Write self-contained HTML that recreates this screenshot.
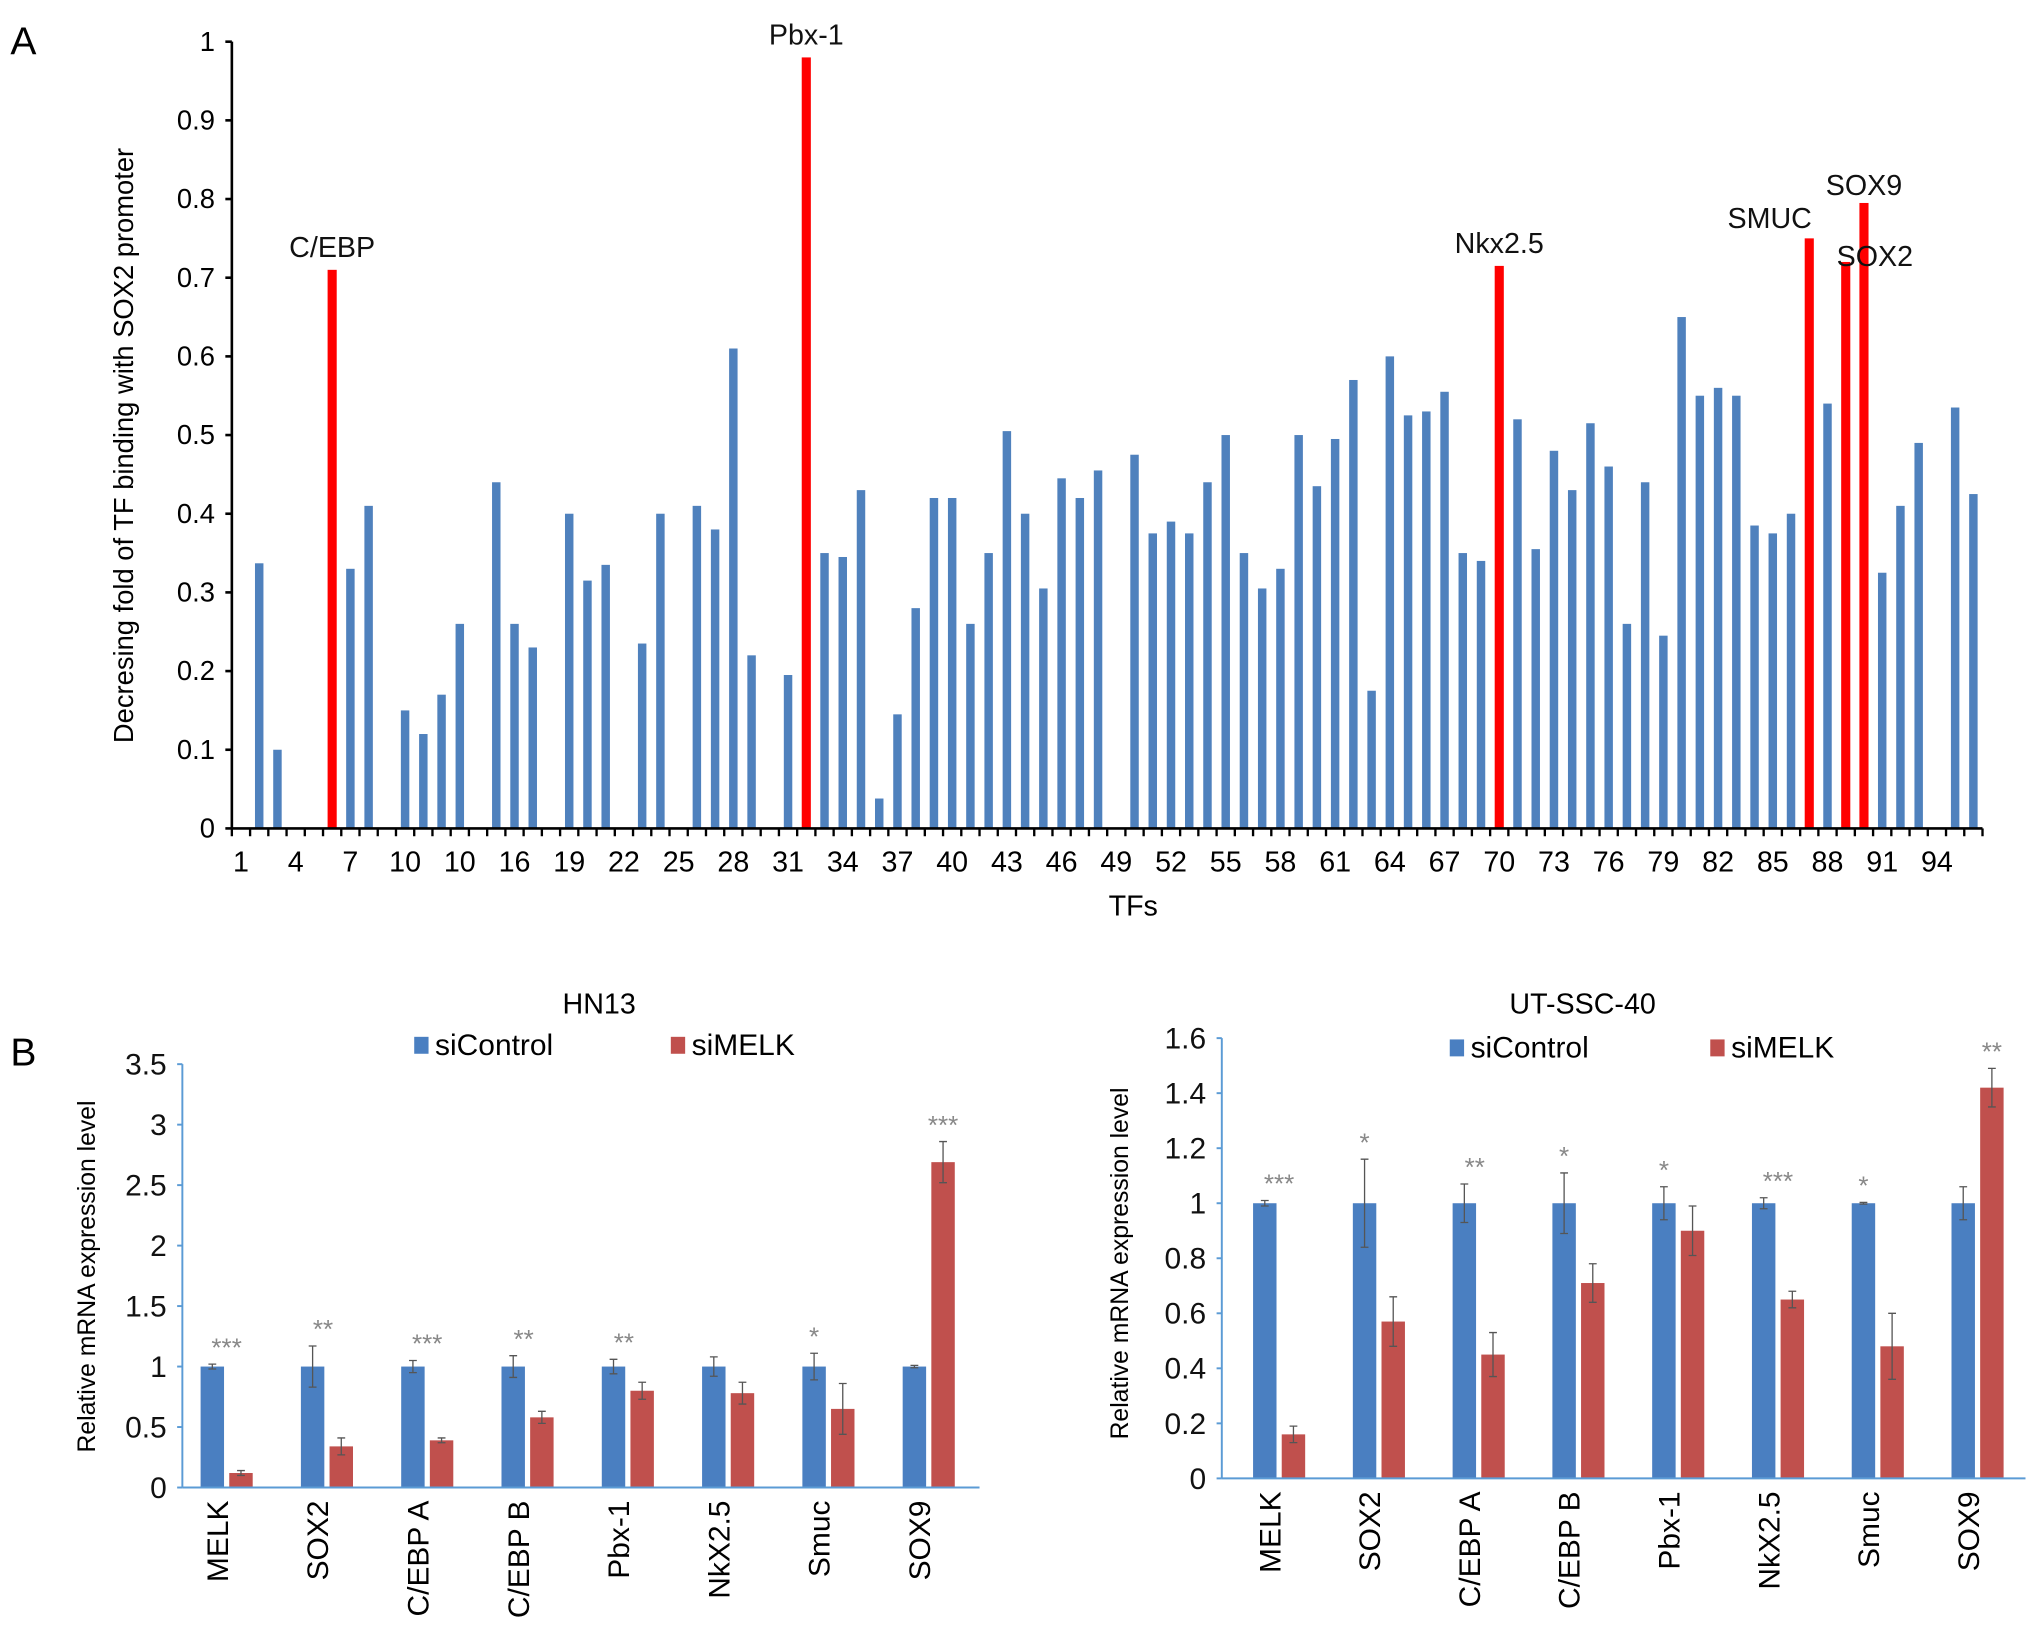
<!DOCTYPE html>
<html><head><meta charset="utf-8">
<style>
html,body{margin:0;padding:0;background:#fff;}
svg{display:block;font-family:"Liberation Sans",Arial,sans-serif;}
</style></head>
<body>
<svg id="fig" width="2032" height="1639" viewBox="0 0 1560 1258.3" preserveAspectRatio="none" xmlns="http://www.w3.org/2000/svg">
  <g id="panelA"></g>
  <g id="panelB1"></g>
  <g id="panelB2"></g>
</svg>
<script>
// ---------- Panel A data ----------
const tfValues = [0,0.337,0.10,0,0,0.71,0.33,0.41,0,0.15,0.12,0.17,0.26,0,0.44,0.26,0.23,0,0.40,0.315,0.335,0,0.235,0.40,0,0.41,0.38,0.61,0.22,0,0.195,0.98,0.35,0.345,0.43,0.038,0.145,0.28,0.42,0.42,0.26,0.35,0.505,0.40,0.305,0.445,0.42,0.455,0,0.475,0.375,0.39,0.375,0.44,0.50,0.35,0.305,0.33,0.50,0.435,0.495,0.57,0.175,0.60,0.525,0.53,0.555,0.35,0.34,0.715,0.52,0.355,0.48,0.43,0.515,0.46,0.26,0.44,0.245,0.65,0.55,0.56,0.55,0.385,0.375,0.40,0.75,0.54,0.72,0.795,0.325,0.41,0.49,0,0.535,0.425];
const highlighted = [6,32,70,87,89,90];
const highlightLabels = ["C/EBP","Pbx-1","Nkx2.5","SMUC","SOX2","SOX9"];
const xTickLabels = ["1","4","7","10","10","16","19","22","25","28","31","34","37","40","43","46","49","52","55","58","61","64","67","70","73","76","79","82","85","88","91","94"];
const yTicksA = [0,0.1,0.2,0.3,0.4,0.5,0.6,0.7,0.8,0.9,1];

// ---------- Panel B data ----------
const genes = ["MELK","SOX2","C/EBP A","C/EBP B","Pbx-1","NkX2.5","Smuc","SOX9"];
const hnControl = [1,1,1,1,1,1,1,1];
const hnControlErr = [0.02,0.17,0.05,0.09,0.06,0.08,0.11,0.01];
const hnMelk = [0.12,0.34,0.39,0.58,0.80,0.78,0.65,2.69];
const hnMelkErr = [0.02,0.07,0.02,0.05,0.07,0.09,0.21,0.17];
const hnStars = ["***","**","***","**","**","","*","***"];
const hnTicks = [0,0.5,1,1.5,2,2.5,3,3.5];
const utControl = [1,1,1,1,1,1,1,1];
const utControlErr = [0.01,0.16,0.07,0.11,0.06,0.02,0.003,0.06];
const utMelk = [0.16,0.57,0.45,0.71,0.90,0.65,0.48,1.42];
const utMelkErr = [0.03,0.09,0.08,0.07,0.09,0.03,0.12,0.07];
const utStars = ["***","*","**","*","*","***","*","**"];
const utTicks = [0,0.2,0.4,0.6,0.8,1,1.2,1.4,1.6];

const NS="http://www.w3.org/2000/svg";
function mk(parent,tag,attrs,text){const e=document.createElementNS(NS,tag);for(const k in attrs)e.setAttribute(k,attrs[k]);if(text!==undefined)e.textContent=text;parent.appendChild(e);return e;}

// ---------- Panel A ----------
(function(){
  const g=document.getElementById('panelA');
  const x0=178,x1=1522,y0=636,y1=32;
  const n=tfValues.length, w=(x1-x0)/n;
  const ys=v=>y0-(y0-y1)*v;
  const xs=i=>x0+(i+0.5)*w;
  let t=mk(g,'text',{x:8,y:42,'font-size':30},'A');
  
  
  tfValues.forEach((v,i)=>{
    if(v<=0)return;
    const hi=highlighted.indexOf(i+1)>=0;
    const bw=hi?7:6.5;
    const r=mk(g,'rect',{x:xs(i)-bw/2,y:ys(v),width:bw,height:y0-ys(v),fill:hi?'#ff0000':'#4f81bd'});
    
    
  });
  highlighted.forEach((k,j)=>{
    const v=tfValues[k-1];
    let lx=xs(k-1), ly=ys(v)-10, anchor='middle';
    if(highlightLabels[j]==='SMUC'){lx=xs(k-1)+2;anchor='end';ly=ys(v)-8;}
    if(highlightLabels[j]==='SOX2'){lx=xs(k-1)-7;anchor='start';ly=ys(v)+3;}
    if(highlightLabels[j]==='SOX9'){lx=xs(k-1);ly=ys(v)-6;}
    const tt=mk(g,'text',{x:lx,y:ly,'font-size':22,'text-anchor':anchor,fill:'#111'},highlightLabels[j]);
    
    
  });
  let ax=mk(g,'line',{x1:x0,y1:y1,x2:x0,y2:y0,stroke:'#000','stroke-width':2});
  
  
  ax=mk(g,'line',{x1:x0,y1:y0,x2:x1,y2:y0,stroke:'#000','stroke-width':2});
  
  
  yTicksA.forEach(v=>{
    mk(g,'line',{x1:x0-5,y1:ys(v),x2:x0,y2:ys(v),stroke:'#000','stroke-width':2});
    const tl=mk(g,'text',{x:x0-13,y:ys(v)+7,'font-size':21,'text-anchor':'end'},String(v));
    
    
  });
  for(let i=0;i<=n;i++) mk(g,'line',{x1:x0+i*w,y1:y0,x2:x0+i*w,y2:y0+6,stroke:'#000','stroke-width':1.8});
  xTickLabels.forEach((s,j)=>{
    const tl=mk(g,'text',{x:xs(j*3),y:y0+33,'font-size':22,'text-anchor':'middle'},s);
    
    
  });
  t=mk(g,'text',{x:870,y:703,'font-size':22,'text-anchor':'middle'},'TFs');
  
  
  t=mk(g,'text',{x:0,y:0,'font-size':21,'text-anchor':'middle',transform:'translate(102,342) rotate(-90)'},'Decresing fold of TF binding with SOX2 promoter');
  
  
})();

// ---------- Panel B ----------
function drawB(gid,o){
  const g=document.getElementById(gid);
  const ys=v=>o.y0-v*o.unit;
  const cx=i=>o.c0+o.step*i;
  const bw=18;
  const drawBar=(x,v,e,col,name)=>{
    const r=mk(g,'rect',{x:x-bw/2,y:ys(v),width:bw,height:o.y0-ys(v),fill:col});
    
    
    const eb=mk(g,'path',{d:`M${x},${ys(v+e)}V${ys(v-e)}M${x-3},${ys(v+e)}H${x+3}M${x-3},${ys(v-e)}H${x+3}`,stroke:'#555','stroke-width':1,fill:'none'});
    
    
  };
  o.ctl.forEach((v,i)=>drawBar(cx(i)-11,v,o.ctlErr[i],'#4a7fc1','sicontrol-bar'));
  o.mel.forEach((v,i)=>drawBar(cx(i)+11,v,o.melErr[i],'#c0504d','simelk-bar'));
  o.stars.forEach((s,i)=>{
    if(!s)return;
    const onRed=o.mel[i]>o.ctl[i];
    const top=onRed?o.mel[i]+o.melErr[i]:o.ctl[i]+o.ctlErr[i];
    const x=onRed?cx(i)+11:cx(i)-11+(s.length===3?11:s.length===2?8:0);
    const st=mk(g,'text',{x:x,y:ys(top)-6,'font-size':20,'text-anchor':'middle',fill:'#888'},s);
    
    
  });
  let a=mk(g,'line',{x1:o.x0,y1:ys(o.ticks[o.ticks.length-1]),x2:o.x0,y2:o.y0,stroke:'#5b9bd5','stroke-width':1.5});
  
  
  a=mk(g,'line',{x1:o.x0,y1:o.y0,x2:o.x1,y2:o.y0,stroke:'#5b9bd5','stroke-width':1.5});
  
  
  o.ticks.forEach(v=>{
    mk(g,'line',{x1:o.x0-4,y1:ys(v),x2:o.x0,y2:ys(v),stroke:'#5b9bd5','stroke-width':1.5});
    const tl=mk(g,'text',{x:o.x0-12,y:ys(v)+8,'font-size':23,'text-anchor':'end',fill:'#111'},String(v));
    
    
  });
  genes.forEach((s,i)=>{
    const tl=mk(g,'text',{x:0,y:0,'font-size':23,'text-anchor':'end',transform:`translate(${cx(i)+1},${o.y0+10}) rotate(-90)`},s);
    
    
  });
  let t=mk(g,'text',{x:o.title[0],y:o.title[1],'font-size':22,'text-anchor':'middle'},o.title[2]);
  
  
  let lg=mk(g,'rect',{x:o.leg[0],y:o.leg[2]-14,width:11,height:13,fill:'#4a7fc1'});
  
  
  t=mk(g,'text',{x:o.leg[0]+16,y:o.leg[2],'font-size':23},'siControl');
  
  
  lg=mk(g,'rect',{x:o.leg[1],y:o.leg[2]-14,width:11,height:13,fill:'#c0504d'});
  
  
  t=mk(g,'text',{x:o.leg[1]+16,y:o.leg[2],'font-size':23},'siMELK');
  
  
  t=mk(g,'text',{x:0,y:0,'font-size':19,'text-anchor':'middle',transform:`translate(${o.yt[0]},${o.yt[1]}) rotate(-90)`},'Relative mRNA expression level');
  
  
}
drawB('panelB1',{x0:140,x1:752,y0:1142,unit:92.86,c0:174,step:77,ctl:hnControl,ctlErr:hnControlErr,mel:hnMelk,melErr:hnMelkErr,stars:hnStars,ticks:hnTicks,title:[460,778,'HN13'],leg:[318,515,810],yt:[73,980]});
drawB('panelB2',{x0:938,x1:1555,y0:1135,unit:211.25,c0:982,step:76.6,ctl:utControl,ctlErr:utControlErr,mel:utMelk,melErr:utMelkErr,stars:utStars,ticks:utTicks,title:[1215,778,'UT-SSC-40'],leg:[1113,1313,812],yt:[866,970]});
(function(){
  const g=document.getElementById('panelB1');
  const t=mk(g,'text',{x:8,y:818,'font-size':30},'B');
  
  
})();
</script>
</body></html>
